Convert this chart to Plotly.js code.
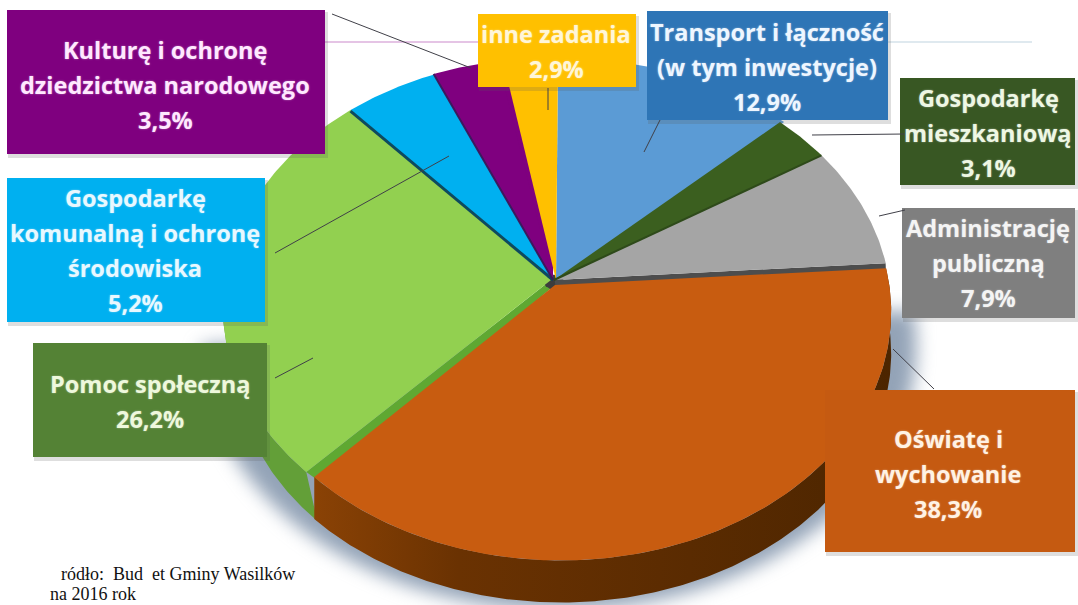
<!DOCTYPE html>
<html>
<head>
<meta charset="utf-8">
<script src="https://cdn.plot.ly/plotly-3.0.1.min.js"></script>
<style>html,body{margin:0;padding:0;background:#fff}#chart{width:1078px;height:605px}</style>
</head>
<body>
<div id="chart"></div>
<script>
// ---- data ----
const categories = ["Transport i łączność (w tym inwestycje)", "Gospodarkę mieszkaniową", "Administrację publiczną",
  "Oświatę i wychowanie", "Pomoc społeczną", "Gospodarkę komunalną i ochronę środowiska",
  "Kulturę i ochronę dziedzictwa narodowego", "inne zadania"];
const shares = [12.9, 3.1, 7.9, 38.3, 26.2, 5.2, 3.5, 2.9];
const labelLines = [
  ["Transport i łączność", "(w tym inwestycje)", "12,9%"],
  ["Gospodarkę", "mieszkaniową", "3,1%"],
  ["Administrację", "publiczną", "7,9%"],
  ["Oświatę i", "wychowanie", "38,3%"],
  ["Pomoc społeczną", "26,2%"],
  ["Gospodarkę", "komunalną i ochronę", "środowiska", "5,2%"],
  ["Kulturę i ochronę", "dziedzictwa narodowego", "3,5%"],
  ["inne zadania", "2,9%"]
];
const sourceLines = ["ródło:  Bud  et Gminy Wasilków", "na 2016 rok"];

// ---- styles ----
const sliceColors = ["#5b9bd5", "#3b5f1f", "#a5a5a5", "#c85c10", "#92d050", "#00b0f0", "#7f007f", "#ffc000"];
const boxColors   = ["#2e75b6", "#385723", "#7f7f7f", "#c55a11", "#548235", "#00b0f0", "#7f007f", "#ffc000"];
const textColors  = ["#eef6ff", "#eef7e4", "#f4f4f4", "#fff2e4", "#eef8dc", "#e8f8ff", "#ffe8ff", "#fff6d8"];
const apexOffset  = [[3,0],[1,0],[1,0],[2,5],[-2,0],[0,0],[0,0],[3,0]];
const arcOffset   = [[5,0],[1,0],[1,0],[8,5],[0,0],[0,0],[0,0],[5,0]];
const arcScaleX   = [1,1,1,0.98,0.98,0.98,1,1];
// box: x0, y0, x1, y1; text centre x; first line centre y
const boxGeom = [
  [647,11,888,120, 767,32], [900,78,1075,185, 988,98], [902,208,1075,318, 988,228],
  [825,390,1075,552, 948,439], [33,343,267,457, 150,384], [7,178,265,322, 135,198],
  [7,10,325,154, 165,50], [478,14,636,87, 556,34]
];
const leaders = [[332,14,471,68],[275,253,449,156],[275,378,313,358],[548,88,548,110],
  [660,120,644,152],[812,135,905,134],[879,216,905,210],[893,349,934,389]];
const pie = {cx:553, cy:280, a:335, b:246, k:0.107, depth:46};
const lineGap = 35;

// ---- projection of the pie disc onto the axes ----
function proj(t, off, sx, r) {
  sx = sx === undefined ? 1 : sx;
  r = r === undefined ? 1 : r;
  const u = Math.sin(t) * r, v = -Math.cos(t) * r, d = 1 - pie.k * v;
  return [pie.cx + off[0] + pie.a * sx * u / d, pie.cy + off[1] + pie.b * v / d];
}
function arc(t0, t1, off, sx, r) {
  const n = Math.max(2, Math.ceil((t1 - t0) / 0.01)), pts = [];
  for (let i = 0; i <= n; i++) pts.push(proj(t0 + (t1 - t0) * i / n, off, sx, r));
  return pts;
}
const total = shares.reduce((s, v) => s + v, 0);
let run = 0;
const bounds = shares.map(v => { const a = run; run += v; return [a / total * 2 * Math.PI, run / total * 2 * Math.PI]; });

function poly(pts, color, extra) {
  return Object.assign({
    type: "scatter", mode: "lines", x: pts.map(p => p[0]), y: pts.map(p => p[1]),
    fill: "toself", fillcolor: color, line: {width: 0, color: color},
    hoverinfo: "skip", showlegend: false
  }, extra || {});
}
function edge(p, q, color, w) {
  return {type: "scatter", mode: "lines", x: [p[0], q[0]], y: [p[1], q[1]],
    line: {color: color, width: w}, hoverinfo: "skip", showlegend: false};
}
function extrude(top, dx, dep, col, extra) {
  const bot = top.map(p => [p[0] + dx, p[1] + dep]).reverse();
  return poly(top.concat(bot), col, extra);
}

const traces = [];
// soft shadow (first trace), only under the lower half of the disc
traces.push(poly(arc(1.55, 4.6, [6, 36], 1, 1.06), "rgba(120,140,165,0.8)"));
// side walls
const apexPt = i => [pie.cx + apexOffset[i][0], pie.cy + apexOffset[i][1]];
traces.push(extrude(arc(bounds[4][0], bounds[4][0] + 1.0, arcOffset[4], arcScaleX[4]), 11, pie.depth + 3, "#639f38"));
// cut side of the green slice, seen along the orange slice
const greenTip = proj(bounds[4][0], arcOffset[4], arcScaleX[4]);
traces.push(poly([apexPt(4), greenTip, [greenTip[0] + 14, greenTip[1] + 10], apexPt(3)], "#5fa832"));
traces.push(extrude(arc(bounds[3][0], bounds[3][1], arcOffset[3], arcScaleX[3]), 0, pie.depth - 4, "#5a2b00", {
  fillgradient: {type: "horizontal", colorscale: [[0, "#8a4205"], [0.25, "#6a3202"], [1, "#4c2500"]]}
}));
// dark hub and purple backing so no white shows where slices part
traces.push(poly(arc(0, 2 * Math.PI, [1, 2], 1, 0.03), "#3d3d3d"));
traces.push(poly([apexPt(6)].concat(arc(bounds[6][0], bounds[7][1], [1, 0], 1, 0.97)), sliceColors[6]));
// cut side of the grey slice, under the orange face
traces.push(edge([pie.cx + 2, pie.cy + 3], proj(bounds[2][1], [1, 3]), "#4d4d4d", 6));
// top faces
shares.forEach((v, i) => {
  const pts = [apexPt(i)].concat(arc(bounds[i][0], bounds[i][1], arcOffset[i], arcScaleX[i]));
  traces.push(poly(pts, sliceColors[i]));
});
// visible cut sides between slices
traces.push(edge(apexPt(5), proj(bounds[5][0], [0, 1], arcScaleX[5]), "#0e4a5e", 3));
traces.push(edge(apexPt(6), proj(bounds[6][0], [0, 0]), "#3c1a5e", 2));
traces.push(edge(apexPt(1), proj(bounds[1][1], [1, 0]), "#2e4a1a", 2));

// ---- pink rule, boxes, leaders ----
const shapes = [
  {type: "line", xref: "x", yref: "y", x0: 325, y0: 42, x1: 480, y1: 42, line: {color: "#dcb0dc", width: 1.5}, layer: "below"},
  {type: "line", xref: "x", yref: "y", x0: 885, y0: 42, x1: 1032, y1: 42, line: {color: "#d5e2ea", width: 1.5}, layer: "below"}
];
boxGeom.forEach((g, i) => {
  shapes.push({type: "rect", xref: "x", yref: "y", x0: g[0] + 1, y0: g[1] + 2, x1: g[2] + 3, y1: g[3] + 4,
    fillcolor: "rgba(90,90,90,0.2)", line: {width: 0}});
  shapes.push({type: "rect", xref: "x", yref: "y", x0: g[0], y0: g[1], x1: g[2], y1: g[3],
    fillcolor: boxColors[i], line: {width: 0}});
});
leaders.forEach(l => shapes.push({type: "line", xref: "x", yref: "y", x0: l[0], y0: l[1], x1: l[2], y1: l[3],
  line: {color: "#404048", width: 1}}));

// ---- text ----
const annotations = [];
labelLines.forEach((lines, i) => lines.forEach((txt, j) => annotations.push({
  xref: "x", yref: "y", x: boxGeom[i][4], y: boxGeom[i][5] + j * lineGap, text: txt, showarrow: false,
  xanchor: "center", yanchor: "middle",
  font: {family: "'Open Sans', Lato, sans-serif", size: 23.5, weight: 700, color: textColors[i],
         shadow: "0 0 2px rgba(255,255,255,0.45)"}
})));
sourceLines.forEach((txt, j) => annotations.push({
  xref: "x", yref: "y", x: j ? 48 : 59, y: j ? 594 : 574, text: txt, showarrow: false,
  xanchor: "left", yanchor: "middle",
  font: {family: "'Liberation Serif', serif", size: 18, color: "#111"}
}));

const layout = {
  width: 1078, height: 605, margin: {l: 0, r: 0, t: 0, b: 0},
  paper_bgcolor: "#fff", plot_bgcolor: "#fff", showlegend: false,
  xaxis: {range: [0, 1078], visible: false, fixedrange: true},
  yaxis: {range: [605, 0], visible: false, fixedrange: true},
  shapes: shapes, annotations: annotations
};
Plotly.newPlot("chart", traces, layout, {displayModeBar: false, staticPlot: true}).then(gd => {
  const first = gd.querySelector(".scatterlayer .trace");
  if (first) first.style.filter = "blur(9px)";
});
</script>
</body>
</html>
